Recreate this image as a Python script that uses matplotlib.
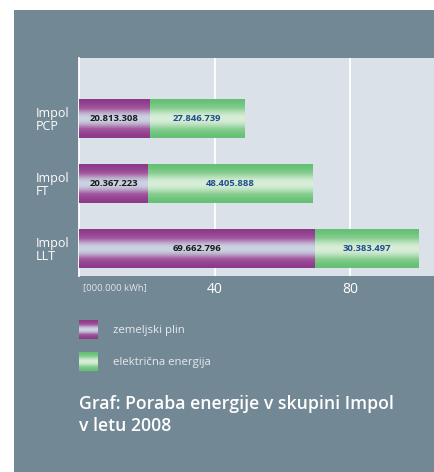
import matplotlib
matplotlib.use("Agg")
import matplotlib.pyplot as plt
import numpy as np
from matplotlib.colors import LinearSegmentedColormap
from matplotlib.patches import Rectangle

plt.rcParams['font.family'] = ['Open Sans', 'DejaVu Sans']

companies = ["Impol\nLLT", "Impol\nFT", "Impol\nPCP"]
gas = [69.662796, 20.367223, 20.813308]
electricity = [30.383497, 48.405888, 27.846739]
gas_labels = ["69.662.796", "20.367.223", "20.813.308"]
el_labels = ["30.383.497", "48.405.888", "27.846.739"]
xticks = [0, 40, 80]
xtick_labels = ["", "40", "80"]
legend_labels = ["zemeljski plin", "električna energija"]
title = "Graf: Poraba energije v skupini Impol\nv letu 2008"
unit = "[000.000 kWh]"

W, H = 435, 472
PANEL = "#738895"
PLOT_BG = "#dae1e8"
gas_cmap = LinearSegmentedColormap.from_list("gas", ["#8e3a8a", "#a45aa0", "#cbd4e2"])
el_cmap = LinearSegmentedColormap.from_list("el", ["#66c176", "#8ccf95", "#d8eed8"])

n = 64
t = np.linspace(-1, 1, n)
grad = ((1 - t ** 2) ** 2.2).reshape(n, 1)

fig = plt.figure(figsize=(W / 100, H / 100), dpi=100)
fig.patch.set_facecolor("white")
fig.patches.append(Rectangle((14 / W, 0), 1 - 14 / W, 1 - 10 / H,
                             transform=fig.transFigure, facecolor=PANEL,
                             edgecolor="none", zorder=-10))

ax = fig.add_axes([79 / W, 1 - 276 / H, 356 / W, 218 / H])
ax.set_facecolor(PLOT_BG)
y = np.arange(len(companies))

b1 = ax.barh(y, gas, height=0.6, color="#8e3a8a", zorder=2)
b2 = ax.barh(y, electricity, left=gas, height=0.6, color="#66c176", zorder=2)


def shade(bars, cmap):
    for p in bars:
        x0, y0 = p.get_x(), p.get_y()
        im = ax.imshow(grad, cmap=cmap, vmin=0, vmax=1, aspect="auto",
                       extent=(x0, x0 + p.get_width(), y0, y0 + p.get_height()),
                       origin="lower", interpolation="bilinear", zorder=3)
        im.set_clip_path(p)


shade(b1, gas_cmap)
shade(b2, el_cmap)

for i in range(len(companies)):
    ax.text(gas[i] / 2, y[i], gas_labels[i], ha="center", va="center",
            fontsize=6.8, fontweight="bold", color="#1a1a1a", zorder=4)
    ax.text(gas[i] + electricity[i] / 2, y[i], el_labels[i], ha="center",
            va="center", fontsize=6.8, fontweight="bold", color="#1f4e8c", zorder=4)

ax.set_xlim(0, 105)
ax.set_ylim(-0.43, 2.93)
ax.set_xticks(xticks)
ax.set_xticklabels(xtick_labels)
ax.set_yticks(y)
ax.set_yticklabels(companies, ha="left", linespacing=1.0)
ax.tick_params(axis="y", length=0, pad=31, labelsize=9, labelcolor="white")
ax.tick_params(axis="x", length=0, pad=4, labelsize=10, labelcolor="white")
ax.grid(axis="x", color="white", linewidth=1.3, zorder=1)
ax.set_axisbelow(True)
for s in ["top", "right", "bottom"]:
    ax.spines[s].set_visible(False)
ax.spines["left"].set_color("white")
ax.spines["left"].set_linewidth(1.3)

ax.text(0.012, -0.055, unit, transform=ax.transAxes, ha="left", va="center",
        fontsize=6.8, color="#dfe5ea")

for i, (lab, cmap) in enumerate(zip(legend_labels, [gas_cmap, el_cmap])):
    top = 320 + 32 * i
    lax = fig.add_axes([79 / W, 1 - (top + 19) / H, 19 / W, 19 / H])
    lax.imshow(grad, cmap=cmap, vmin=0, vmax=1, aspect="auto",
               interpolation="bilinear")
    lax.axis("off")
    fig.text(113 / W, 1 - (top + 10) / H, lab, ha="left", va="center",
             fontsize=8.2, color="#e6eaee")

fig.text(79 / W, 1 - 415 / H, title, ha="left", va="center", fontsize=12.7,
         fontweight="semibold", color="white", linespacing=1.28)

fig.savefig("out.png", dpi=100, facecolor=fig.get_facecolor())
